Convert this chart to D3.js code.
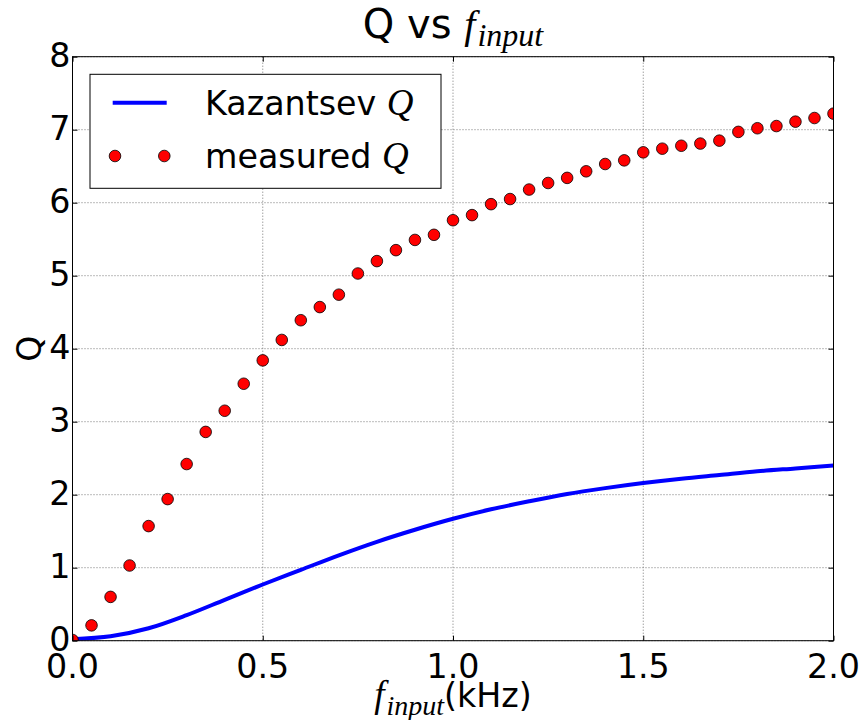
<!DOCTYPE html>
<html>
<head>
<meta charset="utf-8">
<script src="https://cdn.jsdelivr.net/npm/d3@7"></script>
<style>
  html, body { margin: 0; padding: 0; background: #fff; }
  svg { display: block; }
</style>
</head>
<body>
<svg id="chart" width="867" height="720"></svg>
<script>
// ---- data ----
const measuredF = [0.00,0.05,0.10,0.15,0.20,0.25,0.30,0.35,0.40,0.45,0.50,0.55,0.60,0.65,0.70,0.75,0.80,0.85,0.90,0.95,
                   1.00,1.05,1.10,1.15,1.20,1.25,1.30,1.35,1.40,1.45,1.50,1.55,1.60,1.65,1.70,1.75,1.80,1.85,1.90,1.95,2.00];
const measuredQ = [0.01,0.21,0.60,1.03,1.57,1.94,2.42,2.86,3.15,3.52,3.84,4.12,4.39,4.57,4.74,5.03,5.20,5.35,5.49,5.56,
                   5.76,5.83,5.98,6.05,6.18,6.27,6.34,6.43,6.53,6.58,6.69,6.74,6.78,6.81,6.85,6.97,7.02,7.05,7.11,7.16,7.22];
const kazF = [0.0,0.1,0.2,0.3,0.4,0.5,0.6,0.7,0.8,0.9,1.0,1.1,1.2,1.3,1.4,1.5,1.6,1.7,1.8,1.9,2.0];
const kazQ = [0.02,0.06,0.17,0.35,0.56,0.77,0.97,1.17,1.355,1.52,1.67,1.80,1.91,2.01,2.09,2.16,2.22,2.27,2.32,2.36,2.40];
const xTicks = [0.0,0.5,1.0,1.5,2.0];
const xTickLabels = ["0.0","0.5","1.0","1.5","2.0"];
const yTicks = [0,1,2,3,4,5,6,7,8];
const yTickLabels = ["0","1","2","3","4","5","6","7","8"];
const legendLabels = ["Kazantsev ", "measured "];

// ---- layout ----
const svg = d3.select("#chart");
const L = 72.5, R = 833.5, T = 56.7, B = 640.7;
const x = d3.scaleLinear().domain([0, 2]).range([L, R]);
const y = d3.scaleLinear().domain([0, 8]).range([B, T]);
const sans = "'DejaVu Sans', sans-serif";
const serif = "'Liberation Serif', 'DejaVu Serif', serif";

svg.append("defs").append("clipPath").attr("id", "clip")
  .append("rect").attr("x", L).attr("y", T).attr("width", R - L).attr("height", B - T);

// grid
const grid = svg.append("g");
grid.selectAll("line.gx").data(xTicks).enter().append("line")
  .attr("x1", d => x(d)).attr("x2", d => x(d)).attr("y1", T).attr("y2", B)
  .attr("stroke", "#777").attr("stroke-width", 1).attr("stroke-dasharray", "1,2");
grid.selectAll("line.gy").data(yTicks).enter().append("line")
  .attr("x1", L).attr("x2", R).attr("y1", d => y(d)).attr("y2", d => y(d))
  .attr("stroke", "#777").attr("stroke-width", 1).attr("stroke-dasharray", "1,2");

// Kazantsev line
const plot = svg.append("g").attr("clip-path", "url(#clip)");
const line = d3.line().x(d => x(d[0])).y(d => y(d[1])).curve(d3.curveCatmullRom.alpha(0.5));
plot.append("path").datum(kazF.map((f, i) => [f, kazQ[i]]))
  .attr("d", line).attr("fill", "none").attr("stroke", "#0000ff").attr("stroke-width", 4);

// measured points
plot.selectAll("circle").data(measuredF.map((f, i) => [f, measuredQ[i]])).enter().append("circle")
  .attr("cx", d => x(d[0])).attr("cy", d => y(d[1])).attr("r", 5.8)
  .attr("fill", "#ff0000").attr("stroke", "#000").attr("stroke-width", 0.8);

// axes frame and ticks (inward, all sides)
const axG = svg.append("g");
const tickLen = 5;
const xAxisB = d3.axisBottom(x).tickValues(xTicks).tickSize(-tickLen).tickFormat("");
const xAxisT = d3.axisTop(x).tickValues(xTicks).tickSize(-tickLen).tickFormat("");
const yAxisL = d3.axisLeft(y).tickValues(yTicks).tickSize(-tickLen).tickFormat("");
const yAxisR = d3.axisRight(y).tickValues(yTicks).tickSize(-tickLen).tickFormat("");
[[xAxisB, `translate(0,${B})`], [xAxisT, `translate(0,${T})`],
 [yAxisL, `translate(${L},0)`], [yAxisR, `translate(${R},0)`]].forEach(([ax, tr]) => {
  const g = axG.append("g").attr("transform", tr).call(ax);
  g.select(".domain").remove();
  g.selectAll("line").attr("stroke", "#000").attr("stroke-width", 1);
});
axG.append("rect").attr("x", L).attr("y", T).attr("width", R - L).attr("height", B - T)
  .attr("fill", "none").attr("stroke", "#000").attr("stroke-width", 1);

// tick labels
svg.append("g").selectAll("text").data(xTicks).enter().append("text")
  .attr("x", d => x(d)).attr("y", B + 37)
  .attr("text-anchor", "middle").attr("font-family", sans).attr("font-size", 33.3)
  .text((d, i) => xTickLabels[i]);
svg.append("g").selectAll("text").data(yTicks).enter().append("text")
  .attr("x", L - 2).attr("y", d => y(d) + 10)
  .attr("text-anchor", "end").attr("font-family", sans).attr("font-size", 33.3)
  .text((d, i) => yTickLabels[i]);

// title
const title = svg.append("text").attr("x", (L + R) / 2).attr("y", 38)
  .attr("text-anchor", "middle").attr("font-family", sans).attr("font-size", 40);
title.append("tspan").text("Q vs ");
title.append("tspan").attr("font-family", serif).attr("font-style", "italic").attr("font-size", 40).text("f");
title.append("tspan").attr("font-family", serif).attr("font-style", "italic")
  .attr("font-size", 32).attr("dy", 8).attr("dx", 2).text("input");

// x label
const xl = svg.append("text").attr("x", (L + R) / 2).attr("y", 707)
  .attr("text-anchor", "middle").attr("font-family", sans).attr("font-size", 33.3);
xl.append("tspan").attr("font-family", serif).attr("font-style", "italic").attr("font-size", 37).text("f");
xl.append("tspan").attr("font-family", serif).attr("font-style", "italic")
  .attr("font-size", 28).attr("dy", 8).attr("dx", 2).text("input");
xl.append("tspan").attr("dy", -8).text("(kHz)");

// y label
svg.append("text").attr("transform", `translate(41,${(T + B) / 2}) rotate(-90)`)
  .attr("text-anchor", "middle").attr("font-family", sans).attr("font-size", 33.3).text("Q");

// legend
const lg = svg.append("g");
lg.append("rect").attr("x", 90).attr("y", 74.3).attr("width", 351).attr("height", 114)
  .attr("fill", "#fff").attr("stroke", "#000").attr("stroke-width", 1);
lg.append("line").attr("x1", 112.7).attr("x2", 166.7).attr("y1", 102.7).attr("y2", 102.7)
  .attr("stroke", "#0000ff").attr("stroke-width", 4);
[115, 164.3].forEach(cx => {
  lg.append("circle").attr("cx", cx).attr("cy", 156).attr("r", 5.8)
    .attr("fill", "#ff0000").attr("stroke", "#000").attr("stroke-width", 0.8);
});
legendLabels.forEach((lab, i) => {
  const t = lg.append("text").attr("x", 205).attr("y", 115 + i * 53)
    .attr("font-family", sans).attr("font-size", 33.3);
  t.append("tspan").text(lab);
  t.append("tspan").attr("font-family", serif).attr("font-style", "italic").attr("font-size", 37).text("Q");
});
</script>
</body>
</html>
